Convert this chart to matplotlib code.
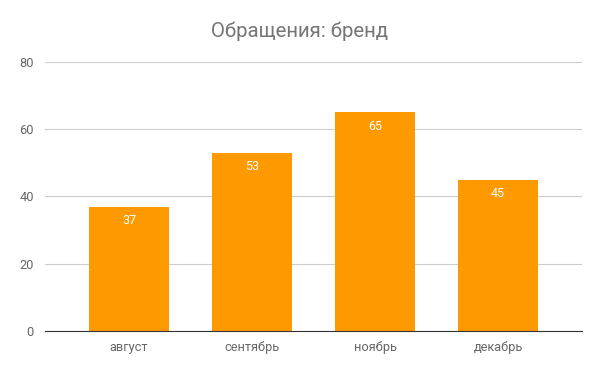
import matplotlib.pyplot as plt

months = ["август", "сентябрь", "ноябрь", "декабрь"]
counts = [37, 53, 65, 45]

plt.rcParams['font.family'] = ['Roboto', 'DejaVu Sans']

fig = plt.figure(figsize=(6, 3.71), dpi=100)
ax = fig.add_axes([0.075, 0.1078, 0.895, 0.7252])

x = range(len(months))
bars = ax.bar(x, counts, width=0.65, color="#ff9900", zorder=2)

for b, v in zip(bars, counts):
    ax.annotate(str(v), (b.get_x() + b.get_width() / 2, v),
                xytext=(0, -5.5), textcoords="offset points",
                ha="center", va="top", color="white", fontsize=9)

ax.set_xlim(-0.683, 3.683)
ax.set_ylim(0, 80)
ax.set_yticks([0, 20, 40, 60, 80])
ax.set_xticks(list(x))
ax.set_xticklabels(months)
ax.grid(axis="y", color="#cccccc", linewidth=0.8, zorder=0)
ax.tick_params(length=0, labelsize=9.2, colors="#666666")
ax.tick_params(axis="x", pad=7)
ax.tick_params(axis="y", pad=8)
for s in ["top", "right", "left"]:
    ax.spines[s].set_visible(False)
ax.spines["bottom"].set_color("#333333")
ax.spines["bottom"].set_zorder(3)

fig.text(0.5, 0.915, "Обращения: бренд", ha="center", va="center",
         fontsize=14.7, color="#757575")

fig.savefig("out.png", dpi=100)
